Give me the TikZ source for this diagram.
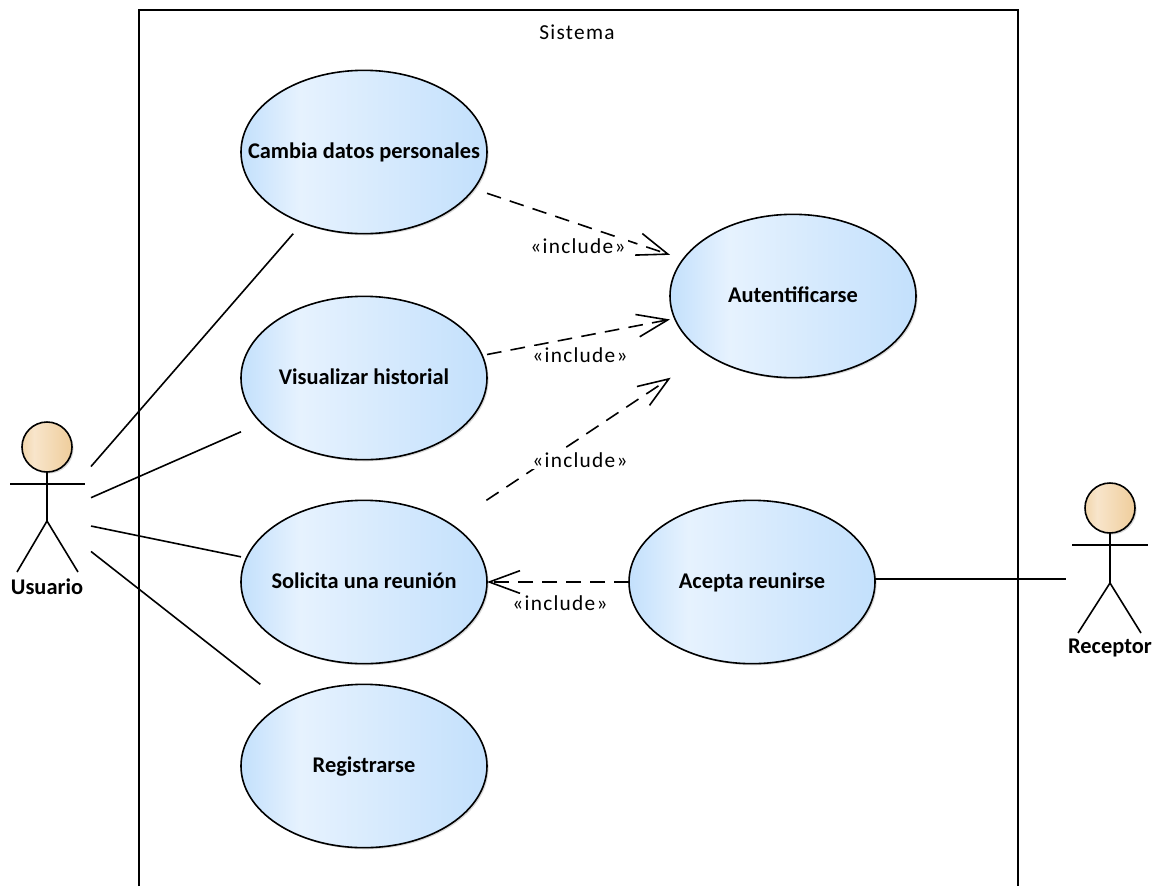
\documentclass[tikz,border=0pt]{standalone}
\usepackage{fontspec}
\setmainfont{Carlito}
\newfontfamily\stereofont[LetterSpace=6]{Carlito}
\usetikzlibrary{positioning,shapes.geometric,shadows,arrows.meta}

\definecolor{ucEdge}{HTML}{C3E0FC}
\definecolor{ucLight}{HTML}{E6F2FE}
\definecolor{headEdge}{HTML}{F2D6AC}
\definecolor{headLight}{HTML}{F8E5CB}
\definecolor{headRight}{HTML}{EFCD9B}
\pgfdeclarehorizontalshading{usecasefill}{100bp}{color(0bp)=(ucEdge); color(25bp)=(ucEdge); color(37bp)=(ucLight); color(75bp)=(ucEdge); color(100bp)=(ucEdge)}
\pgfdeclarehorizontalshading{headfill}{100bp}{color(0bp)=(headEdge); color(25bp)=(headEdge); color(37bp)=(headLight); color(75bp)=(headRight); color(100bp)=(headRight)}

\begin{document}
\begin{tikzpicture}[x=0.75pt, y=-0.75pt, node distance=100pt,
    usecase/.style={ellipse, draw=black, line width=1.2pt, shading=usecasefill, minimum width=184.5pt, minimum height=122.5pt, inner sep=-30pt, outer sep=0pt, text centered, text height=13pt, text depth=3pt, font=\bfseries\fontsize{16.8}{20}\selectfont, drop shadow={shadow xshift=1.2pt, shadow yshift=-1.2pt, opacity=0.3}},
    ucbox/.style={rectangle, minimum width=184.5pt, minimum height=122.5pt, inner sep=0pt, outer sep=0pt},
    actorbox/.style={rectangle, minimum width=66pt, minimum height=142.5pt, inner sep=0pt, outer sep=0pt},
    head/.style={circle, draw=black, line width=1.2pt, shading=headfill, minimum size=37.5pt, inner sep=0pt, outer sep=0pt, drop shadow={shadow xshift=1.2pt, shadow yshift=-1.2pt, opacity=0.3}},
    actorname/.style={inner sep=0pt, font=\bfseries\fontsize{16.8}{20}\selectfont},
    stereo/.style={fill=white, inner sep=1.5pt, font=\stereofont\fontsize{16}{19}\selectfont},
    stick/.style={line width=1.2pt},
    assoc/.style={line width=1.2pt},
    incl/.style={line width=1.2pt, dash pattern=on 11pt off 7pt, -{Straight Barb[length=23pt, width=17pt, line width=1.2pt]}}]

\useasboundingbox (0,0) rectangle (1161,886);

% System boundary (open at the bottom)
\coordinate (sysBL) at (139,886);
\coordinate (sysTL) at (139,10);
\coordinate (sysTR) at (1018,10);
\coordinate (sysBR) at (1018,886);
\draw[stick] (sysBL) -- (sysTL) -- (sysTR) -- (sysBR);
\node[font=\stereofont\fontsize{16}{19}\selectfont] (sistema) at (577,32) {Sistema};

% Use cases of the left column
\node[usecase] (cambia) at (364,152) {Cambia datos personales};
\node[usecase, below of=cambia, node distance=169.5pt] (visualizar) {Visualizar historial};
\node[usecase, below of=visualizar, node distance=153pt] (solicita) {Solicita una reunión};
\node[usecase, below of=solicita, node distance=138pt] (registrarse) {Registrarse};

% Use cases of the right column
\node[usecase] (autentificarse) at (793,296) {Autentificarse};
\node[usecase, right of=solicita, node distance=291pt] (acepta) {Acepta reunirse};

% Bounding boxes that clip the connectors
\node[ucbox] (cambiaBox) at (cambia) {};
\node[ucbox] (visualizarBox) at (visualizar) {};
\node[ucbox] (solicitaBox) at (solicita) {};
\node[ucbox] (registrarseBox) at (registrarse) {};
\node[ucbox] (autentificarseBox) at (autentificarse) {};
\node[ucbox] (aceptaBox) at (acepta) {};

% Actor on the left
\node[actorbox] (usuario) at (47,517) {};
\node[head] (usuarioHead) at (47,447) {};
\node[actorname] (usuarioName) at (47,587) {Usuario};
\draw[stick] (usuarioHead) -- (47,521) -- (17,572);
\draw[stick] (47,521) -- (78,572);
\draw[stick] (10,484) -- (85,484);

% Actor on the right
\node[actorbox] (receptor) at (1110,579) {};
\node[head] (receptorHead) at (1110,508) {};
\node[actorname] (receptorName) at (1110,648) {Receptor};
\draw[stick] (receptorHead) -- (1110,583) -- (1078,633);
\draw[stick] (1110,583) -- (1141,633);
\draw[stick] (1072,545) -- (1148,545);

% Associations
\draw[assoc] (usuario) -- (cambiaBox);
\draw[assoc] (usuario) -- (visualizarBox);
\draw[assoc] (usuario) -- (solicitaBox);
\draw[assoc] (usuario) -- (registrarseBox);
\draw[assoc] (aceptaBox.east |- receptor) -- (receptor);

% Include relations
\draw[incl] (cambiaBox) -- (autentificarseBox);
\draw[incl] (visualizarBox) -- (autentificarseBox);
\draw[incl] (solicitaBox) -- (autentificarseBox);
\draw[incl] (aceptaBox) -- (solicitaBox);

\node[stereo] (inclCambia) at (578,246) {«include»};
\node[stereo] (inclVisualizar) at (580,355) {«include»};
\node[stereo] (inclSolicita) at (580,460) {«include»};
\node[stereo] (inclAcepta) at (560,603) {«include»};

\end{tikzpicture}
\end{document}
